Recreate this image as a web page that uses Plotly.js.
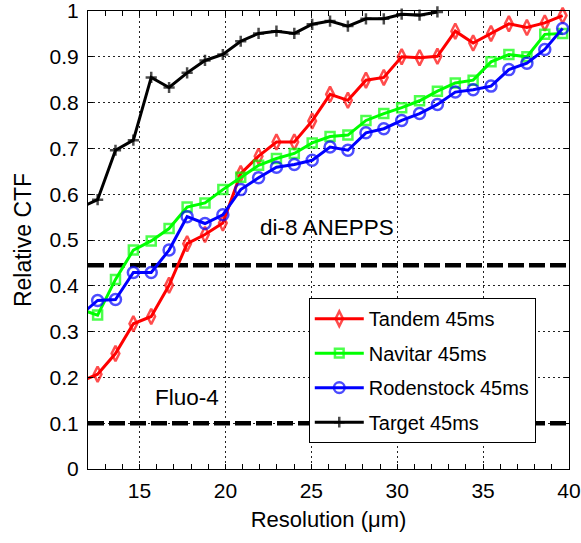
<!DOCTYPE html>
<html>
<head>
<meta charset="utf-8">
<script src="https://cdn.plot.ly/plotly-3.0.1.min.js"></script>
<style>html,body{margin:0;padding:0;background:#fff;}#chart{width:581px;height:543px;}</style>
</head>
<body>
<div id="chart"></div>
<script>
// Resolution (µm) sample positions (first point lies just left of the visible range)
const resolution = [11.52, 12.56, 13.60, 14.64, 15.68, 16.72, 17.77, 18.81, 19.85, 20.89, 21.93, 22.97, 24.01, 25.05, 26.09, 27.13, 28.18, 29.22, 30.26, 31.30, 32.34, 33.38, 34.42, 35.46, 36.50, 37.55, 38.59, 39.63];
const tandem = [0.190, 0.207, 0.252, 0.317, 0.333, 0.401, 0.492, 0.512, 0.537, 0.645, 0.683, 0.714, 0.714, 0.760, 0.818, 0.805, 0.849, 0.855, 0.900, 0.898, 0.901, 0.956, 0.930, 0.951, 0.972, 0.964, 0.974, 0.990];
const navitar = [0.349, 0.336, 0.414, 0.478, 0.498, 0.525, 0.572, 0.581, 0.610, 0.637, 0.663, 0.678, 0.689, 0.712, 0.726, 0.729, 0.761, 0.776, 0.789, 0.804, 0.825, 0.843, 0.849, 0.889, 0.905, 0.900, 0.949, 0.951];
const rodenstock = [0.335, 0.368, 0.370, 0.429, 0.429, 0.478, 0.551, 0.536, 0.555, 0.610, 0.636, 0.659, 0.665, 0.674, 0.703, 0.696, 0.734, 0.743, 0.761, 0.776, 0.796, 0.823, 0.828, 0.836, 0.872, 0.886, 0.916, 0.962];
const targetRes = resolution.slice(0, 21);
const target = [0.570, 0.588, 0.696, 0.718, 0.855, 0.833, 0.865, 0.892, 0.905, 0.934, 0.951, 0.956, 0.951, 0.971, 0.978, 0.967, 0.983, 0.983, 0.993, 0.991, 0.998];
const seriesNames = ["Tandem 45ms", "Navitar 45ms", "Rodenstock 45ms", "Target 45ms"];
// Dye threshold levels
const thresholdNames = ["di-8 ANEPPS", "Fluo-4"];
const thresholdValues = [0.445, 0.10];
const xRange = [12, 40];
const yTicks = [0, 0.1, 0.2, 0.3, 0.4, 0.5, 0.6, 0.7, 0.8, 0.9, 1];
const xTicks = [15, 20, 25, 30, 35, 40];

const FONT = "Liberation Sans, Arial, Helvetica, sans-serif";

function sizes(xs, s) { return xs.map(v => v < xRange[0] ? 0 : s); }

function series(xs, ys, name, color, symbol, msize, group) {
  return {
    x: xs, y: ys, name: name, type: "scatter", mode: "lines+markers",
    legendgroup: group, cliponaxis: false,
    line: {color: color, width: 3},
    marker: {symbol: symbol, size: sizes(xs, msize), color: color, line: {color: color, width: 2.5}}
  };
}

const traces = [];
thresholdValues.forEach((v, i) => {
  traces.push({
    x: xRange, y: [v, v], type: "scatter", mode: "lines", showlegend: false,
    name: thresholdNames[i], hoverinfo: "skip",
    line: {color: "black", width: 4.5, dash: "16px,5px"}
  });
});
traces.push(series(resolution, tandem, seriesNames[0], "#ff0000", "diamond-tall-open", 11, "a"));
traces.push(series(resolution, navitar, seriesNames[1], "#00ff00", "square-open", 9, "b"));
traces.push(series(resolution, rodenstock, seriesNames[2], "#0000ff", "circle-open", 11, "c"));
traces.push(series(targetRes, target, seriesNames[3], "#000000", "cross-thin-open", 8, "d"));

const axisCommon = {
  showline: true, linecolor: "black", linewidth: 1, mirror: "ticks",
  ticks: "inside", ticklen: 5, tickwidth: 1, tickcolor: "black",
  showgrid: true, gridcolor: "#222", gridwidth: 1, griddash: "2px,3px",
  zeroline: false, ticklabeloverflow: "allow",
  tickfont: {family: FONT, size: 21, color: "black"}
};

const layout = {
  width: 581, height: 543,
  margin: {l: 88, r: 12, t: 11, b: 74},
  paper_bgcolor: "white", plot_bgcolor: "white",
  font: {family: FONT, size: 21, color: "black"},
  showlegend: true,
  xaxis: Object.assign({}, axisCommon, {
    range: xRange, tickmode: "array", tickvals: xTicks,
    minor: {dtick: 1, tick0: 0, ticks: "inside", ticklen: 5, tickcolor: "black", showgrid: false},
    title: {text: "Resolution (μm)", font: {family: FONT, size: 22, color: "black"}, standoff: 10},
    ticklabelstandoff: 3
  }),
  yaxis: Object.assign({}, axisCommon, {
    range: [0, 1], tickmode: "array", tickvals: yTicks,
    title: {text: "Relative CTF", font: {family: FONT, size: 23, color: "black"}, standoff: 11},
    ticklabelstandoff: 4
  }),
  legend: {
    x: 0.459, y: 0.373, xanchor: "left", yanchor: "top",
    bgcolor: "white", bordercolor: "black", borderwidth: 1,
    font: {family: FONT, size: 20, color: "black"},
    itemwidth: 49, tracegroupgap: 5.5, traceorder: "grouped"
  },
  annotations: [
    {x: 25.92, y: 0.528, xref: "x", yref: "y", text: thresholdNames[0], showarrow: false,
     font: {family: FONT, size: 22.5, color: "black"}},
    {x: 17.76, y: 0.157, xref: "x", yref: "y", text: thresholdNames[1], showarrow: false,
     font: {family: FONT, size: 22.5, color: "black"}}
  ]
};

Plotly.newPlot("chart", traces, layout, {displayModeBar: false, staticPlot: true});
</script>
</body>
</html>
